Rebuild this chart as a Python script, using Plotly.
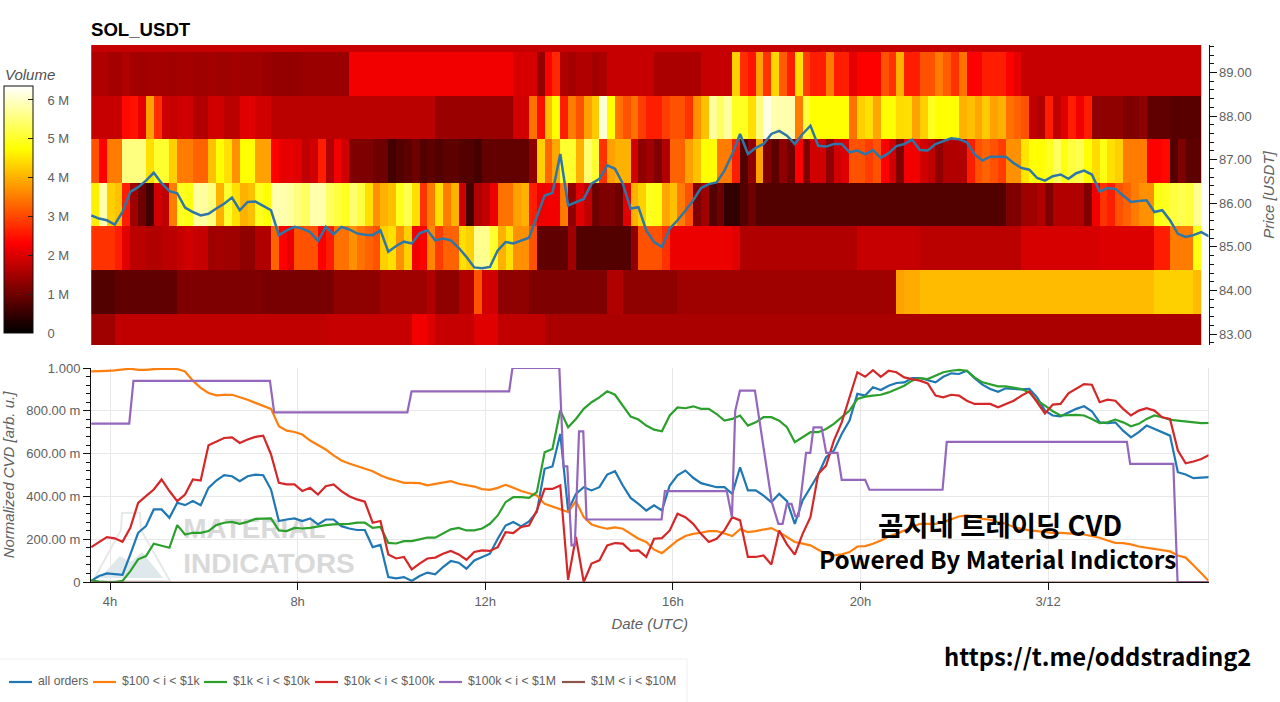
import plotly.graph_objects as go

W, H = 1280, 702

# heatmap volume per price bucket, in millions, one value per 10 min column
price_levels = [82.97, 83.97, 84.97, 85.97, 86.97, 87.97, 88.97, 89.97]

row_83 = [1.45] * 3 + [1.75] * 27 + [1.8] * 11 + [2.2, 2.2, 2.0] + [1.8] * 5 + [2.05] * 3 + [1.75] * 6 + [1.55] * 84

row_84 = ([0.75] * 3 + [0.87] * 8 + [1.15] * 11 + [1.1] * 9 + [1.3] * 6 + [1.45] * 6 + [1.6] + [1.3] * 3
          + [1.6, 1.6, 3.1, 1.9, 1.9] + [1.3] * 4 + [1.15] * 10 + [1.6, 1.6] + [1.3] * 7 + [1.45] * 28
          + [3.85, 3.95, 3.95] + [4.1] * 30 + [4.3] * 5 + [4.1])

row_85 = [2.8, 2.8, 2.8, 2.6, 2.05, 1.7, 1.7, 1.6, 1.6, 1.7, 1.7, 1.8, 1.9, 1.8, 1.8, 1.45, 1.5, 1.45, 1.45, 1.3,
          1.3, 1.6, 1.6, 3.25, 2.3, 2.1, 3.1, 3.1, 3.1, 2.3, 2.6, 3.4, 3.4, 3.7, 3.4, 3.25, 3.1, 4.3, 4.45, 3.7,
          4.3, 2.2, 2.3, 3.6, 2.9, 3.25, 3.25, 4.45, 4.3, 5.65, 5.65, 5.05, 4.0, 4.45, 3.7, 3.7, 3.1, 0.87, 0.87,
          0.87, 0.87, 1.45] + [0.75] * 7 + [1.3, 3.1, 3.1, 3.1, 2.8] + [2.15] * 8 + [2.05] + [1.6] * 15 \
         + [1.8] * 8 + [1.7] * 13 + [1.95] * 10 + [2.0] * 7 + [2.6, 2.6, 3.5, 3.5, 3.5, 4.85]

row_86 = [4.6, 5.85, 4.3, 4.15, 2.6, 1.45, 1.0, 0.6, 1.9, 1.75, 3.5, 4.95, 4.85, 5.75, 5.75, 5.55, 4.0, 5.05, 4.45,
          4.0, 4.15, 4.95, 4.75, 5.85, 5.85, 5.75, 5.55, 5.35, 5.85, 5.85, 5.35, 5.15, 4.95, 5.45, 5.15, 4.45, 3.7,
          4.0, 4.15, 4.95, 5.25, 4.45, 2.8, 3.5, 4.45, 3.5, 4.0, 1.9, 0.6, 1.6, 1.75, 2.15, 3.4, 3.4, 3.85, 4.0,
          2.6, 2.15, 2.2, 2.2, 3.5, 1.3, 2.05, 1.75, 1.0, 1.15, 1.15, 1.0, 2.05, 4.0, 4.3, 4.95, 4.85, 3.9, 4.15,
          3.5, 3.1, 1.15, 1.45, 0.75, 1.0, 0.45, 0.45, 0.75, 1.0] + [0.75] * 32 \
         + [1.15, 1.15, 1.45, 1.45, 1.6, 1.15, 1.6, 1.6, 1.6, 1.6, 1.15, 2.2, 2.8, 2.6, 3.1, 3.25, 3.5, 3.7, 3.7,
            4.85, 4.95, 5.15, 5.25, 5.15, 5.65]

row_87 = [3.1, 2.3, 3.5, 3.5, 5.55, 5.55, 5.55, 4.45, 5.05, 5.05, 4.3, 3.5, 3.5, 3.25, 3.25, 4.15, 4.75, 4.45, 3.7,
          4.75, 4.75, 3.85, 3.85, 2.3, 2.1, 2.1, 2.05, 1.75, 1.9, 2.6, 1.6, 2.2, 1.9, 1.15, 1.15, 1.15, 1.0, 1.0,
          0.6, 0.75, 0.85, 1.0, 0.75, 0.85, 0.75, 0.85, 0.85, 0.75, 0.75, 0.6, 0.9, 0.9, 0.9, 0.9, 0.9, 0.9, 1.3,
          4.3, 3.3, 3.9, 5.05, 5.05, 4.0, 5.45, 5.05, 2.8, 3.85, 4.0, 4.0, 1.9, 1.3, 1.45, 1.15, 1.6, 3.25, 3.25,
          3.85, 4.15, 4.75, 4.75, 3.5, 3.5, 2.6, 0.75, 1.3, 3.85, 1.15, 0.85, 1.3, 1.0, 2.3, 1.15, 1.9, 1.9, 1.3,
          1.9, 2.05, 3.1, 3.1, 2.9, 3.1, 2.3, 1.9, 1.15, 2.2, 2.2, 1.9, 1.75, 1.3, 1.6, 1.6, 1.6, 2.6, 3.1, 3.25,
          3.1, 2.9, 3.7, 3.7, 4.5, 4.75, 4.75, 4.95, 5.35, 4.85, 5.15, 5.25, 4.75, 4.4, 4.85, 4.45, 4.3, 3.5, 3.5,
          3.5, 2.3, 2.3, 2.4, 0.75, 1.15, 0.85, 0.85]

row_88 = [1.8, 1.8, 1.8, 1.8, 2.4, 2.5, 2.1, 3.85, 2.75, 1.85, 1.8, 1.9, 1.9, 1.6, 1.6, 1.9, 1.9, 1.7, 1.7, 2.05,
          2.05, 1.9, 1.9] + [1.7] * 21 + [1.4] * 10 \
         + [1.9, 1.9, 3.4, 2.45, 4.15, 4.75, 2.6, 3.5, 3.1, 3.85, 4.25, 6.1, 4.75, 3.4, 3.1, 3.4, 2.9, 2.6, 2.6,
            2.9, 3.1, 3.1, 2.8, 3.7, 4.15, 5.75, 5.35, 5.75, 4.95, 4.95, 4.45, 5.55, 6.2, 5.85, 5.85, 5.85, 3.5,
            5.15, 4.75, 4.75, 4.75, 4.75, 4.75, 3.4, 4.3, 4.45, 3.9, 4.75, 4.75, 4.4, 4.45, 3.85, 4.3, 4.95, 4.75,
            4.75, 4.75, 4.0, 4.15, 3.9, 4.25, 3.85, 4.0, 3.4, 3.25, 3.1, 1.75, 1.6, 2.6, 1.75, 2.05, 2.6, 2.2, 2.6,
            1.3, 1.3, 1.3, 1.3, 1.15, 1.15, 1.3, 0.87, 0.87, 0.87, 0.8, 0.8, 0.8, 0.8]

row_89 = [1.6, 1.6, 1.5, 1.5, 1.6, 1.5, 1.45, 1.5, 1.5, 1.5, 1.45, 1.5, 1.5, 1.45, 1.45, 1.5, 1.45, 1.45, 1.5, 1.45,
          1.45, 1.45, 1.4, 1.35, 1.35, 1.35, 1.35, 1.4, 1.4, 1.4, 1.4, 1.4, 1.4] + [2.2] * 21 + [1.95] * 3 \
         + [1.35, 2.3, 2.7, 1.6, 1.5, 1.6, 1.6, 1.5, 1.55] + [1.8] * 6 + [1.55] * 6 + [1.8] * 4 \
         + [4.3, 2.75, 2.5, 3.85, 2.8, 4.35, 3.2, 2.6, 4.45, 2.9, 2.6, 2.6, 3.5, 2.6, 2.6, 2.1, 2.3, 2.3, 2.3, 3.1,
            2.8, 4.0, 2.6, 2.6, 3.1, 3.1, 3.5, 3.2, 2.8, 3.4, 2.3, 2.3, 2.6, 2.6, 2.6, 2.3, 2.1] + [1.8] * 23

row_90 = [1.8] * 142

# price and CVD lines, one value per 10 min from 03:36
price = [85.72, 85.65, 85.61, 85.51, 85.80, 86.26, 86.37, 86.52, 86.70, 86.46, 86.28, 86.23, 85.90, 85.80, 85.72,
         85.76, 85.88, 85.99, 86.13, 85.84, 86.03, 86.04, 85.94, 85.84, 85.27, 85.38, 85.46, 85.42, 85.34, 85.14,
         85.46, 85.29, 85.46, 85.40, 85.31, 85.28, 85.27, 85.38, 84.89, 85.02, 85.12, 85.08, 85.31, 85.38,
         85.15, 85.19, 85.15, 84.98, 84.77, 84.53, 84.51, 84.54, 84.92, 85.11, 85.08, 85.15, 85.21, 85.69, 86.18,
         86.24, 87.13, 85.95, 86.03, 86.10, 86.45, 86.56, 86.87, 86.79, 86.45, 85.88, 85.91, 85.38, 85.11, 85.00,
         85.42, 85.61, 85.83, 86.07, 86.35, 86.44, 86.48, 86.75, 87.13, 87.59, 87.13, 87.27, 87.36, 87.59, 87.66,
         87.55, 87.36, 87.59, 87.78, 87.32, 87.30, 87.36, 87.36, 87.17, 87.21,
         87.12, 87.22, 87.04, 87.15, 87.31, 87.36, 87.46, 87.22, 87.21, 87.36, 87.42, 87.49, 87.47, 87.40, 87.12,
         86.98, 87.07, 87.07, 87.07, 86.92, 86.81, 86.77, 86.58, 86.52, 86.62, 86.66, 86.56, 86.69, 86.75, 86.66,
         86.27, 86.35, 86.33, 86.18, 86.03, 86.05, 86.07, 85.80, 85.84, 85.61, 85.30, 85.23, 85.27, 85.34, 85.24]

all_orders = [5, 28, 40, 36, 33, 129, 230, 261, 339, 339, 300, 370, 359, 378, 359, 440, 474, 499, 494, 471, 494, 502,
              499, 432, 285, 292, 297, 285, 297, 269, 292, 292, 261, 250, 243, 243, 163, 173, 23, 17, 23, 5, 28, 44,
              36, 70, 98, 90, 62, 101, 117, 132, 202, 264, 280, 260, 283, 327, 529, 540, 692, 334, 412, 443, 428,
              443, 502, 518, 451, 393, 365, 334, 358, 334, 451, 498, 521, 487, 462, 451, 443, 443, 412, 536, 428,
              428, 404, 373, 412, 378, 272, 381, 443, 502, 583, 614, 692, 754, 879,
              871, 910, 897, 917, 930, 933, 953, 953, 944, 933, 959, 975, 972, 987, 953, 922, 902, 889, 905, 902,
              900, 902, 863, 801, 778, 774, 793, 809, 821, 798, 746, 742, 746, 707, 676, 700, 731, 715, 700, 684,
              513, 502, 485, 487, 490]

usd_100_1k = [984, 987, 987, 989, 994, 997, 991, 991, 995, 997, 997, 995, 984, 941, 907, 883, 872, 874, 875, 863,
              852, 837, 824, 809, 728, 707, 701, 689, 661, 639, 619, 592, 568, 554, 541, 530, 518, 499, 484, 474,
              463, 463, 462, 452,
              459, 467, 471, 459, 454, 446, 434, 431, 440, 454, 440, 425, 415, 404, 365, 353, 342, 327, 378, 303,
              269, 257, 249, 255, 249, 225, 202, 187, 151, 135, 163, 194, 215, 225, 230, 238, 238, 225, 215, 247,
              233, 238, 244, 252, 233, 210, 187, 179, 171, 151, 132, 124, 129, 140, 166,
              168, 179, 194, 213, 225, 241, 257, 272, 272, 272, 280, 292, 306, 311, 306, 295, 291, 280, 272, 257,
              249, 241, 238, 233, 230, 230, 229, 225, 222, 213, 207, 194, 183, 182, 176, 166, 160, 155, 148, 143,
              124, 114, 78, 39, 3]

usd_1k_10k = [8, 2, 0, 0, 5, 51, 106, 121, 179, 168, 160, 266, 222, 230, 230, 238, 266, 277, 281, 272, 281, 295,
              297, 297, 241, 238, 253, 250, 253, 261, 266, 269, 269, 272, 277, 277, 253, 257, 183, 180, 191, 191,
              199, 208,
              207, 225, 246, 253, 241, 241, 250, 272, 311, 373, 397, 397, 393, 420, 606, 622, 801, 723, 762, 809,
              840, 863, 891, 875, 824, 773, 759, 731, 712, 704, 778, 816, 812, 821, 809, 809, 785, 754, 762, 778,
              731, 746, 770, 770, 754, 723, 653, 676, 700, 700, 715, 739, 770, 801, 855,
              866, 871, 875, 886, 902, 917, 941, 953, 948, 964, 980, 987, 991, 987, 956, 933, 922, 914, 914, 907,
              902, 886, 847, 824, 798, 778, 779, 781, 778, 762, 742, 746, 759, 746, 728, 739, 762, 778, 770, 758,
              754, 750, 746, 742, 743]

usd_10k_100k = [163, 188, 210, 204, 188, 253, 370, 401, 432, 479, 425, 378, 409, 479, 474, 639, 655, 673, 676, 650,
                666, 678, 684, 596, 463, 456, 456, 425, 440, 409, 448, 456, 425, 401, 386, 375, 277, 285, 129, 110,
                117, 59, 86, 110,
                114, 132, 145, 129, 104, 140, 148, 145, 163, 233, 229, 257, 264, 334, 435, 435, 451, 10, 210, 0, 86,
                101, 171, 182, 179, 145, 148, 117, 202, 205, 241, 319, 303, 272, 225, 187, 202, 241, 303, 288,
                117, 117, 124, 82, 241, 176, 128, 225, 303, 505, 544, 661, 746, 863, 980,
                959, 990, 959, 987, 980, 956, 948, 941, 928, 871, 863, 875, 871, 847, 832, 832, 832, 816, 832, 847,
                871, 891, 840, 788, 829, 832, 882, 902, 925, 922, 840, 852, 847, 809, 778, 801, 812, 801, 770, 762,
                614, 555, 563, 575, 594]

usd_1m_10m = [0] * 144

# this one moves in steps, so it keeps its own time knots (hours since 3/11 00:00)
usd_100k_1m_t = [3.6, 4.41, 4.5, 7.41, 7.5, 10.34, 10.43, 12.51, 12.58, 13.58, 13.67, 13.75, 13.84, 13.91, 14.0,
                 14.09, 14.16, 15.76, 15.83, 17.15, 17.26, 17.33, 17.43, 17.75, 18.11, 18.25, 18.34, 18.43, 18.53,
                 18.61, 18.68, 18.84, 18.93, 19.0, 19.17, 19.27, 19.51, 19.6, 20.1, 20.19, 21.75, 21.84, 25.68,
                 25.75, 26.67, 26.76, 27.43]
usd_100k_1m = [740, 740, 940, 940, 793, 793, 891, 891, 1000, 1000, 540, 540, 171, 171, 704, 704, 292, 292, 425, 425,
               303, 800, 894, 894, 373, 272, 272, 365, 365, 308, 308, 603, 603, 723, 723, 603, 603, 477, 477, 431,
               431, 655, 655, 552, 552, 0, 0]

rows = [row_83, row_84, row_85, row_86, row_87, row_88, row_89, row_90]

line_times = [3.6 + i / 6 for i in range(144)]
col_times = [t + 1 / 12 for t in line_times[:142]]

time_ticks = [4, 8, 12, 16, 20, 24]
time_labels = ['4h', '8h', '12h', '16h', '20h', '3/12']
cvd_ticks = [0, 200, 400, 600, 800, 1000]
cvd_labels = ['0', '200.00 m', '400.00 m', '600.00 m', '800.00 m', '1.000']
vol_ticks = [0, 1, 2, 3, 4, 5, 6]
vol_labels = ['0', '1 M', '2 M', '3 M', '4 M', '5 M', '6 M']

FONT = 'Liberation Sans'
GREY = '#606060'
XR = [3.595, 27.42]


def px(x):
    return x / W


def py(y):
    return 1 - y / H


fig = go.Figure()

fig.add_trace(go.Heatmap(
    x=col_times, y=price_levels, z=rows, zmin=0, zmax=6.36,
    colorscale=[[0, '#000000'], [0.365, '#ff0000'], [0.746, '#ffff00'], [1, '#ffffff']],
    showlegend=False,
    colorbar=dict(
        x=px(4), xanchor='left', xpad=0, y=py(86), yanchor='top', ypad=0,
        len=247, lenmode='pixels', thickness=29, thicknessmode='pixels',
        # nbsp pads the labels away from the bar, inside ticks give them no gap
        tickvals=vol_ticks, ticktext=['\u00a0\u00a0\u00a0' + v for v in vol_labels],
        ticks='inside', ticklen=5, tickcolor='#222',
        tickfont=dict(family=FONT, size=13, color=GREY),
        outlinecolor='#111', outlinewidth=1,
    ),
    xaxis='x', yaxis='y',
))
fig.add_trace(go.Scatter(x=line_times, y=price, mode='lines', showlegend=False,
                         line=dict(color='#2f76a8', width=2.5), xaxis='x', yaxis='y'))

# watermark text goes in as a trace so the lines stay on top of it
fig.add_trace(go.Scatter(x=[5.56, 5.56], y=[238, 75], mode='text', text=['<b>MATERIAL</b>', '<b>INDICATORS</b>'],
                         textposition='middle right', textfont=dict(family=FONT, size=28, color='#d9d9d9'),
                         showlegend=False, hoverinfo='skip', xaxis='x2', yaxis='y2'))

series = [
    ('all orders', all_orders, '#1f77b4'),
    ('$100 < i < $1k', usd_100_1k, '#ff7f0e'),
    ('$1k < i < $10k', usd_1k_10k, '#2ca02c'),
    ('$10k < i < $100k', usd_10k_100k, '#d62728'),
    ('$100k < i < $1M', usd_100k_1m, '#9467bd'),
    ('$1M < i < $10M', usd_1m_10m, '#8c564b'),
]
for name, values, color in series:
    t = usd_100k_1m_t if values is usd_100k_1m else line_times
    # the last one sits flat on the axis, keep it thin so the axis line shows
    width = 1 if values is usd_1m_10m else 2.2
    fig.add_trace(go.Scatter(x=t, y=values, mode='lines', name=name, showlegend=False,
                             line=dict(color=color, width=width), xaxis='x2', yaxis='y2'))

# watermark logo, sits under the lines
logo = [
    dict(path=f'M {px(122)} {py(513)} L {px(140)} {py(513)} L {px(141)} {py(530)} L {px(170)} {py(581)} '
              f'L {px(93)} {py(581)} L {px(121)} {py(530)} Z',
         line=dict(color='#e6e9ea', width=2)),
    dict(path=f'M {px(100)} {py(578)} L {px(120)} {py(556)} L {px(131)} {py(562)} L {px(142)} {py(552)} '
              f'L {px(163)} {py(578)} Z',
         fillcolor='#dfe8ea', line=dict(width=0)),
]
shapes = [dict(type='path', xref='paper', yref='paper', layer='below', **s) for s in logo]


def rule(x0, y0, x1, y1, color='#e6e6e6', width=1):
    return dict(type='line', xref='paper', yref='paper', x0=px(x0), x1=px(x1), y0=py(y0), y1=py(y1),
                line=dict(color=color, width=width), layer='below')


shapes.append(rule(1208.5, 368, 1208.5, 582))
shapes.append(rule(0, 659, 687, 659, '#f0f0f0'))
shapes.append(rule(687, 659, 687, 702, '#f0f0f0'))


def note(text, x, y, size, xanchor='center', color='black', bold=True, family='Noto Sans CJK KR', italic=False):
    return dict(text=f'<b>{text}</b>' if bold else text, x=px(x), y=py(y), xref='paper', yref='paper',
                xanchor=xanchor, yanchor='middle', showarrow=False,
                font=dict(family=family, size=size, color=color, style='italic' if italic else 'normal'))


annotations = [
    note('SOL_USDT', 89, 30, 18.6, 'left', family=FONT),
    note('Volume', 3, 75, 15, 'left', '#505050', bold=False, family=FONT, italic=True),
    note('곰지네 트레이딩 CVD', 1000, 524, 27.5),
    note('Powered By Material Indictors', 997, 558, 24.3),
    note('https://t.me/oddstrading2', 1097, 655, 23.8),
]

# key drawn by hand, plotly's own legend cannot make the swatches this short
key_x = [9, 93, 204, 315, 439, 562]
for (name, values, color), x in zip(series, key_x):
    shapes.append(rule(x, 682, x + 23, 682, color, 2.2))
    annotations.append(note(name, x + 27, 681, 12.25, 'left', GREY, bold=False, family=FONT))

fig.update_layout(
    width=W, height=H,
    margin=dict(l=0, r=0, t=0, b=0, autoexpand=False),
    paper_bgcolor='white', plot_bgcolor='white',
    showlegend=False,
    font=dict(family=FONT, size=13, color=GREY),
    shapes=shapes, annotations=annotations,
    xaxis=dict(domain=[px(91), px(1208.5)], range=XR, anchor='y', visible=False),
    yaxis=dict(domain=[py(345), py(45)], range=[82.75, 89.63], side='right', anchor='x',
               showgrid=False, zeroline=False, showline=True, linecolor='#111', ticks='outside', ticklen=7,
               tickcolor='#111', tickvals=[83, 84, 85, 86, 87, 88, 89], tickformat='.2f',
               minor=dict(dtick=0.2, ticks='outside', ticklen=4, tickcolor='#111'),
               title=dict(text='Price [USDT]', font=dict(size=15, style='italic', color=GREY), standoff=12)),
    xaxis2=dict(domain=[px(91), px(1208.5)], range=XR, anchor='y2',
                tickvals=time_ticks, ticktext=time_labels, ticks='outside', ticklen=7, tickcolor='#111',
                showline=True, linecolor='#111', gridcolor='#e8e8e8', zeroline=False,
                title=dict(text='Date (UTC)', font=dict(size=15, style='italic', color=GREY), standoff=10)),
    yaxis2=dict(domain=[py(582), py(368)], range=[0, 1000], anchor='x2',
                tickvals=cvd_ticks, ticktext=cvd_labels, ticks='outside', ticklen=7, tickcolor='#111',
                showline=True, linecolor='#111', gridcolor='#e8e8e8', zeroline=False,
                minor=dict(dtick=40, ticks='outside', ticklen=4, tickcolor='#111'),
                title=dict(text='Normalized CVD [arb. u.]', font=dict(size=15, style='italic', color=GREY),
                           standoff=8)),
)

fig.write_html("out.html", config={'displayModeBar': False}, post_script="document.body.style.margin='0';")
